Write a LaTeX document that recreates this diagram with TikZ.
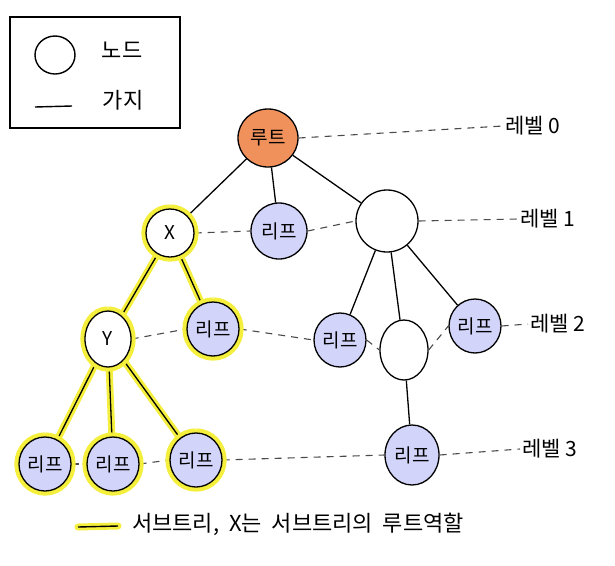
\documentclass[tikz,border=0pt]{standalone}
\usepackage{fontspec}
\setmainfont{Noto Sans CJK KR}
\usetikzlibrary{shapes.geometric}
\definecolor{rootorange}{HTML}{F0915C}
\definecolor{leafblue}{HTML}{D2D4FA}
\definecolor{hiyellow}{HTML}{F4EE3C}
\definecolor{dashgray}{HTML}{4A4A4A}
\tikzset{
  treenode/.style={ellipse, draw=black, line width=1.3pt, fill=white, inner sep=0pt, font=\fontsize{19}{19}\selectfont},
  leaf/.style={treenode, fill=leafblue, minimum width=52pt, minimum height=54pt},
  inner/.style={treenode, minimum width=54pt, minimum height=56pt},
  rootn/.style={treenode, fill=rootorange, minimum width=60pt, minimum height=58pt},
  ring/.style={draw=hiyellow, line width=8pt},
  edge/.style={draw=black, line width=1.3pt},
  hledge/.style={draw=hiyellow, line width=7pt, line cap=round},
  levelline/.style={draw=dashgray, line width=1.1pt, dash pattern=on 7pt off 6pt},
  levellabel/.style={font=\fontsize{21}{21}\selectfont, anchor=west, inner sep=2pt},
  legendtext/.style={font=\fontsize{22}{22}\selectfont, inner sep=0pt}
}
\begin{document}
\begin{tikzpicture}[x=1pt,y=-1pt]
\useasboundingbox (0,0) rectangle (615,565);
% legend box
\draw[line width=1.4pt] (10,17) rectangle (180,128);
\node[ellipse, draw, line width=1.4pt, minimum width=40pt, minimum height=38pt, inner sep=0pt] (legnode) at (55,55) {};
\node[legendtext] (legnodet) at (122,50) {노드};
\coordinate (legA) at (35,107);
\coordinate (legB) at (72,106);
\draw[line width=1.4pt] (legA) -- (legB);
\node[legendtext] (legedget) at (123,100) {가지};

% nodes
\node[rootn] (root) at (268,138) {루트};
\node[inner, minimum width=48pt, minimum height=48pt] (X) at (170,233) {X};
\node[leaf, minimum width=56pt, minimum height=56pt] (l1) at (279,231) {리프};
\node[inner, minimum width=62pt, minimum height=62pt] (n1) at (387,221) {};
\node[inner, minimum width=46pt, minimum height=56pt] (Y) at (108,339) {Y};
\node[leaf] (a2) at (213,329) {리프};
\node[leaf] (b2) at (340,340) {리프};
\node[inner, minimum width=48pt, minimum height=60pt] (n2) at (404,350) {};
\node[leaf] (c2) at (475,326) {리프};
\node[leaf] (d1) at (45,464) {리프};
\node[leaf] (d2) at (113,464) {리프};
\node[leaf] (d3) at (196,460) {리프};
\node[leaf, minimum width=54pt, minimum height=60pt] (d4) at (412,455) {리프};

% level labels
\node[levellabel] (lv0) at (503,126) {레벨 0};
\node[levellabel] (lv1) at (518,219) {레벨 1};
\node[levellabel] (lv2) at (528,324) {레벨 2};
\node[levellabel] (lv3) at (520,449) {레벨 3};

% level dashed lines
\draw[levelline] (root.east) -- (lv0.west);
\draw[levelline] (X.east) -- (l1.west);
\draw[levelline] (l1.east) -- (n1.west);
\draw[levelline] (n1.east) -- (lv1.west);
\draw[levelline] (Y.east) -- (a2.west);
\draw[levelline] (a2.east) -- (b2.west);
\draw[levelline] (b2.east) -- (n2.west);
\draw[levelline] (n2.east) -- (c2.west);
\draw[levelline] (c2.east) -- (lv2.west);
\draw[levelline] (d1.east) -- (d2.west);
\draw[levelline] (d2.east) -- (d3.west);
\draw[levelline] (d3.east) -- (d4.west);
\draw[levelline] (d4.east) -- (lv3.west);

% highlight of subtree edges
\draw[hledge] (X) -- (Y);
\draw[hledge] (X) -- (a2);
\draw[hledge] (Y) -- (d1);
\draw[hledge] (Y) -- (d2);
\draw[hledge] (Y) -- (d3);

% edges
\draw[edge] (root) -- (X);
\draw[edge] (root) -- (l1);
\draw[edge] (root) -- (n1);
\draw[edge] (X) -- (Y);
\draw[edge] (X) -- (a2);
\draw[edge] (n1) -- (b2);
\draw[edge] (n1) -- (n2);
\draw[edge] (n1) -- (c2);
\draw[edge] (Y) -- (d1);
\draw[edge] (Y) -- (d2);
\draw[edge] (Y) -- (d3);
\draw[edge] (n2) -- (d4);

% yellow rings round the subtree nodes
\foreach \n in {X,Y,a2,d1,d2,d3}{
  \draw[ring] (\n.north) to[out=0,in=90] (\n.east) to[out=-90,in=0] (\n.south) to[out=180,in=-90] (\n.west) to[out=90,in=180] (\n.north);
}
\node[inner, minimum width=48pt, minimum height=48pt] (X2) at (X) {X};
\node[inner, minimum width=46pt, minimum height=56pt] (Y2) at (Y) {Y};
\node[leaf] (a22) at (a2) {리프};
\node[leaf] (d12) at (d1) {리프};
\node[leaf] (d22) at (d2) {리프};
\node[leaf] (d32) at (d3) {리프};

% bottom legend
\coordinate (ylA) at (78,527);
\coordinate (ylB) at (118,526);
\draw[hiyellow, line width=7pt, line cap=round] (ylA) -- (ylB);
\draw[black, line width=1.4pt] (ylA) -- (ylB);
\node[legendtext, anchor=west] (note) at (132,524) {서브트리,\ \ X는\ \ 서브트리의\ \ 루트역할};
\end{tikzpicture}
\end{document}
